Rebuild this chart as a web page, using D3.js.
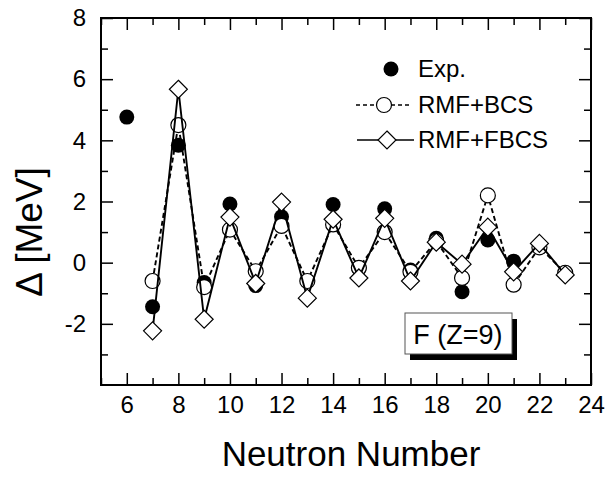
<!DOCTYPE html>
<html>
<head>
<meta charset="utf-8">
<script src="https://cdn.jsdelivr.net/npm/d3@7"></script>
<style>
  html, body { margin: 0; padding: 0; background: #fff; }
  svg { display: block; font-family: "Liberation Sans", Arial, sans-serif; }
</style>
</head>
<body>
<svg id="chart" width="608" height="483"></svg>
<script>
// ---- data ----
const expN     = [6, 7, 8, 9, 10, 11, 12, 14, 15, 16, 17, 18, 19, 20, 21];
const expVals  = [4.76, -1.44, 3.84, -0.65, 1.92, -0.75, 1.50, 1.90, -0.20, 1.76, -0.24, 0.80, -0.95, 0.74, 0.05];
const calcN    = [7, 8, 9, 10, 11, 12, 13, 14, 15, 16, 17, 18, 19, 20, 21, 22, 23];
const bcsVals  = [-0.60, 4.50, -0.80, 1.08, -0.28, 1.20, -0.60, 1.25, -0.17, 1.00, -0.30, 0.70, -0.50, 2.20, -0.72, 0.50, -0.33];
const fbcsVals = [-2.23, 5.67, -1.85, 1.49, -0.68, 1.98, -1.16, 1.42, -0.50, 1.45, -0.60, 0.67, -0.05, 1.16, -0.30, 0.63, -0.40];
const xMajorTicks = [6, 8, 10, 12, 14, 16, 18, 20, 22, 24];
const xMinorTicks = [5, 7, 9, 11, 13, 15, 17, 19, 21, 23];
const yMajorTicks = [-2, 0, 2, 4, 6, 8];
const yMinorTicks = [-3, -1, 1, 3, 5, 7];
const legendLabels = ["Exp.", "RMF+BCS", "RMF+FBCS"];
const boxLabel = "F (Z=9)";
const xTitle = "Neutron Number";
const yTitle = "\u0394 [MeV]";

// ---- layout ----
const L = 101, R = 591, T = 18, B = 385;
const svg = d3.select("#chart");
const x = d3.scaleLinear().domain([5, 24]).range([L, R]);
const y = d3.scaleLinear().domain([-4, 8]).range([B, T]);

const majorLen = 12, minorLen = 7;
const fmt = d => String(d);

function styleAxis(g) {
  g.select(".domain").remove();
  g.selectAll(".tick line").attr("stroke", "#000").attr("stroke-width", 1.5);
  g.selectAll(".tick text").attr("fill", "#000").style("font-size", "24px")
    .style("font-family", "'Liberation Sans', Arial, sans-serif");
}

// bottom
svg.append("g").attr("transform", `translate(0,${B})`)
  .call(d3.axisBottom(x).tickValues(xMajorTicks).tickSize(-majorLen).tickPadding(11).tickFormat(fmt))
  .call(styleAxis);
svg.append("g").attr("transform", `translate(0,${B})`)
  .call(d3.axisBottom(x).tickValues(xMinorTicks).tickSize(-minorLen).tickFormat(""))
  .call(styleAxis);
// top
svg.append("g").attr("transform", `translate(0,${T})`)
  .call(d3.axisTop(x).tickValues(xMajorTicks).tickSize(-majorLen).tickFormat(""))
  .call(styleAxis);
svg.append("g").attr("transform", `translate(0,${T})`)
  .call(d3.axisTop(x).tickValues(xMinorTicks).tickSize(-minorLen).tickFormat(""))
  .call(styleAxis);
// left
svg.append("g").attr("transform", `translate(${L},0)`)
  .call(d3.axisLeft(y).tickValues(yMajorTicks).tickSize(-majorLen).tickPadding(15).tickFormat(fmt))
  .call(styleAxis);
svg.append("g").attr("transform", `translate(${L},0)`)
  .call(d3.axisLeft(y).tickValues(yMinorTicks).tickSize(-minorLen).tickFormat(""))
  .call(styleAxis);
// right
svg.append("g").attr("transform", `translate(${R},0)`)
  .call(d3.axisRight(y).tickValues(yMajorTicks).tickSize(-majorLen).tickFormat(""))
  .call(styleAxis);
svg.append("g").attr("transform", `translate(${R},0)`)
  .call(d3.axisRight(y).tickValues(yMinorTicks).tickSize(-minorLen).tickFormat(""))
  .call(styleAxis);

// frame
svg.append("rect").attr("x", L).attr("y", T).attr("width", R - L).attr("height", B - T)
  .attr("fill", "none").attr("stroke", "#000").attr("stroke-width", 2);

// titles
svg.append("text").attr("x", (L + R) / 2 + 5).attr("y", 466).attr("text-anchor", "middle")
  .style("font-size", "35px").text(xTitle);
svg.append("text").attr("transform", "translate(42,232) rotate(-90)").attr("text-anchor", "middle")
  .style("font-size", "37px").text(yTitle);

// ---- series ----
const expData  = expN.map((n, i) => ({ n, v: expVals[i] }));
const bcsData  = calcN.map((n, i) => ({ n, v: bcsVals[i] }));
const fbcsData = calcN.map((n, i) => ({ n, v: fbcsVals[i] }));
const line = d3.line().x(d => x(d.n)).y(d => y(d.v));
const R_C = 7.5, R_D = 9;
const diamondPath = (cx, cy) => `M${cx},${cy - R_D}L${cx + R_D},${cy}L${cx},${cy + R_D}L${cx - R_D},${cy}Z`;

svg.append("g").selectAll("circle").data(expData).join("circle")
  .attr("cx", d => x(d.n)).attr("cy", d => y(d.v)).attr("r", R_C).attr("fill", "#000");

svg.append("path").datum(bcsData).attr("d", line).attr("fill", "none")
  .attr("stroke", "#000").attr("stroke-width", 1.9).attr("stroke-dasharray", "5,3");
svg.append("g").selectAll("circle").data(bcsData).join("circle")
  .attr("cx", d => x(d.n)).attr("cy", d => y(d.v)).attr("r", R_C)
  .attr("fill", "#fff").attr("stroke", "#000").attr("stroke-width", 1.2);

svg.append("path").datum(fbcsData).attr("d", line).attr("fill", "none")
  .attr("stroke", "#000").attr("stroke-width", 1.9);
svg.append("g").selectAll("path").data(fbcsData).join("path")
  .attr("d", d => diamondPath(x(d.n), y(d.v)))
  .attr("fill", "#fff").attr("stroke", "#000").attr("stroke-width", 1.2);

// ---- legend ----
const lg = svg.append("g");
const rows = [69, 105, 140];
const textX = 418;
lg.append("circle").attr("cx", 391).attr("cy", rows[0]).attr("r", R_C).attr("fill", "#000");
lg.append("line").attr("x1", 356).attr("x2", 412).attr("y1", rows[1]).attr("y2", rows[1])
  .attr("stroke", "#000").attr("stroke-width", 1.4).attr("stroke-dasharray", "4,3");
lg.append("circle").attr("cx", 384).attr("cy", rows[1]).attr("r", R_C)
  .attr("fill", "#fff").attr("stroke", "#000").attr("stroke-width", 1.2);
lg.append("line").attr("x1", 357).attr("x2", 414).attr("y1", rows[2]).attr("y2", rows[2])
  .attr("stroke", "#000").attr("stroke-width", 1.6);
lg.append("path").attr("d", diamondPath(387, rows[2]))
  .attr("fill", "#fff").attr("stroke", "#000").attr("stroke-width", 1.2);
legendLabels.forEach((t, i) => {
  lg.append("text").attr("x", textX).attr("y", rows[i] + 8).style("font-size", "24px").text(t);
});

// ---- annotation box ----
svg.append("rect").attr("x", 410).attr("y", 319).attr("width", 107).attr("height", 41).attr("fill", "#000");
svg.append("rect").attr("x", 405).attr("y", 313).attr("width", 107).attr("height", 41)
  .attr("fill", "#fff").attr("stroke", "#555").attr("stroke-width", 1);
svg.append("text").attr("x", 458).attr("y", 344).attr("text-anchor", "middle")
  .style("font-size", "27px").text(boxLabel);
</script>
</body>
</html>
